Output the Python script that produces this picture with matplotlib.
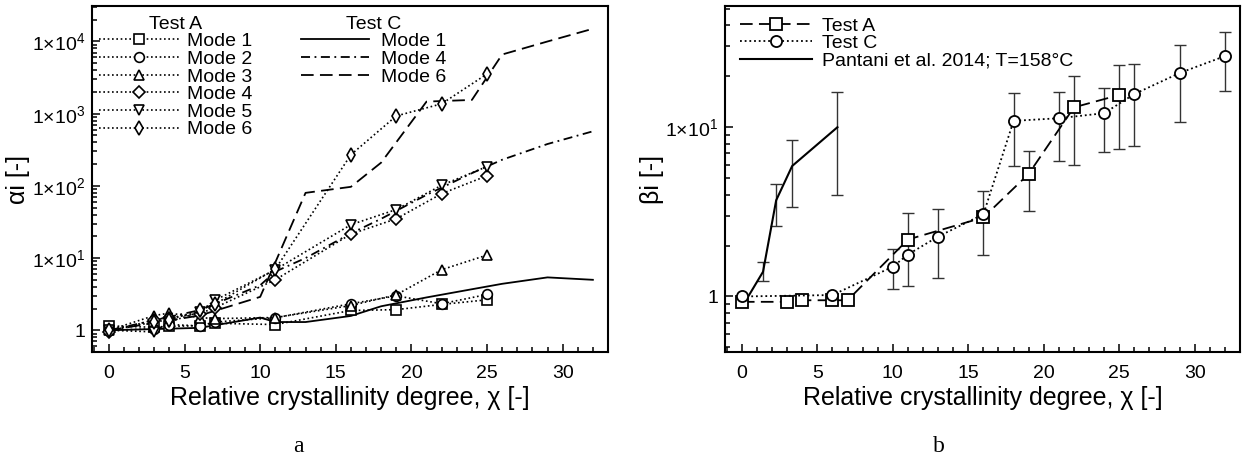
import matplotlib
matplotlib.use("Agg")
import matplotlib.pyplot as plt
import matplotlib.ticker as mticker
import numpy as np

plt.rcParams["font.family"] = "Liberation Sans"
plt.rcParams["mathtext.fontset"] = "custom"
plt.rcParams["mathtext.rm"] = "Liberation Sans"
plt.rcParams["mathtext.default"] = "regular"

# ---- panel a: alpha_i ----
a_x = [0, 3, 4, 6, 7, 11, 16, 19, 22, 25]
a_mode1 = [1.15, 1.1, 1.13, 1.16, 1.25, 1.2, 1.88, 1.93, 2.28, 2.64]
a_mode2 = [1.0, 1.05, 1.2, 1.15, 1.3, 1.49, 2.33, 3.0, 2.33, 3.13]
a_mode3 = [1.0, 1.6, 1.73, 1.5, 1.45, 1.5, 2.2, 3.1, 6.9, 11.0]
a_mode4 = [0.95, 1.4, 1.5, 1.7, 2.05, 5.0, 21.5, 35, 78, 138]
a_mode5 = [1.0, 0.95, 1.3, 1.8, 2.6, 6.9, 29, 47, 102, 185]
a_mode6 = [1.0, 1.3, 1.4, 1.9, 2.3, 7.0, 270, 930, 1370, 3550]

c_x = [0, 6, 10, 11, 13, 16, 18, 21, 24, 26, 29, 32]
c_mode1 = [1.0, 1.08, 1.5, 1.3, 1.3, 1.58, 2.15, 2.85, 3.7, 4.4, 5.4, 5.0]
c_mode4 = [1.0, 1.9, 4.2, 6.5, 10, 22, 35, 75, 150, 230, 380, 570]
c_mode6 = [1.0, 1.6, 2.9, 8.7, 80, 97, 210, 1470, 1550, 6600, 10000, 15000]

# ---- panel b: beta_i ----
bA_x = [0, 3, 4, 6, 7, 11, 16, 19, 22, 25]
bA_y = [0.93, 0.93, 0.95, 0.95, 0.95, 2.17, 2.93, 5.3, 13.1, 15.5]
bA_err_x = [16, 19, 22, 25]
bA_err_lo = [1.77, 3.2, 6.0, 7.4]
bA_err_hi = [4.2, 7.2, 20.0, 23.3]

bC_x = [0, 6, 10, 11, 13, 16, 18, 21, 24, 26, 29, 32]
bC_y = [1.0, 1.02, 1.5, 1.77, 2.26, 3.06, 10.9, 11.3, 12.1, 15.7, 20.9, 26.3]
bC_err_x = [10, 11, 13, 18, 21, 24, 26, 29, 32]
bC_err_lo = [1.1, 1.16, 1.28, 5.9, 6.3, 7.1, 7.7, 10.8, 16.4]
bC_err_hi = [1.9, 3.1, 3.27, 15.9, 16.1, 17.0, 23.6, 30.6, 36.5]

pant_x = [0.33, 1.4, 2.27, 3.33, 6.33]
pant_y = [0.97, 1.4, 3.7, 5.9, 10.0]
pant_err_x = [1.4, 2.27, 3.33, 6.33]
pant_err_y = [1.4, 3.7, 5.9, 10.0]
pant_err_lo = [1.23, 2.6, 3.4, 4.0]
pant_err_hi = [1.6, 4.6, 8.4, 16.1]

FS = 14
LFS = 18
dotted = (0, (1, 1.6))
dashdot = (0, (5, 2.5, 1, 2.5))
dashed = (0, (7, 3.5))


def sci_fmt(v, pos):
    if v <= 0:
        return ""
    e = int(round(np.log10(v)))
    if abs(v - 10 ** e) > 1e-9 * v:
        return ""
    if e == 0:
        return "1"
    return "1\u00d710$^{%d}$" % e


def style_axes(ax):
    ax.set_yscale("log")
    ax.set_xlim(-1.12, 33.0)
    ax.xaxis.set_major_locator(mticker.MultipleLocator(5))
    ax.xaxis.set_minor_locator(mticker.MultipleLocator(1))
    ax.yaxis.set_major_formatter(mticker.FuncFormatter(sci_fmt))
    ax.yaxis.set_minor_formatter(mticker.NullFormatter())
    ax.tick_params(which="both", direction="in", top=False, right=False, labelsize=FS, width=1.1)
    ax.tick_params(which="major", length=6)
    ax.tick_params(which="minor", length=3.5)
    ax.tick_params(axis="x", which="both", pad=9)
    ax.tick_params(axis="y", which="both", pad=5)
    for s in ax.spines.values():
        s.set_linewidth(1.5)
    ax.set_xlabel("Relative crystallinity degree, \u03c7 [-]", fontsize=LFS, labelpad=3)


fig = plt.figure(figsize=(12.45, 4.58), dpi=100)
ax1 = fig.add_axes([92 / 1245, 1 - 352 / 458, 516 / 1245, 346 / 458])
ax2 = fig.add_axes([725 / 1245, 1 - 352 / 458, 515 / 1245, 346 / 458])

# panel a
mk = dict(color="black", lw=1.2, ls=dotted, markerfacecolor="white",
          markeredgecolor="black", markeredgewidth=1.2)
hA = []
for ys, m, lab in [(a_mode1, "s", "Mode 1"), (a_mode2, "o", "Mode 2"), (a_mode3, "^", "Mode 3"),
                   (a_mode4, "D", "Mode 4"), (a_mode5, "v", "Mode 5"), (a_mode6, "d", "Mode 6")]:
    ms = 6 if m == "D" else 7
    h, = ax1.plot(a_x, ys, marker=m, markersize=ms, label=lab, zorder=3, **mk)
    hA.append(h)

hC = []
for ys, ls, lab in [(c_mode1, "-", "Mode 1"), (c_mode4, dashdot, "Mode 4"), (c_mode6, dashed, "Mode 6")]:
    h, = ax1.plot(c_x, ys, color="black", lw=1.3, ls=ls, label=lab, zorder=2)
    hC.append(h)

style_axes(ax1)
ax1.set_ylim(0.5, 3.1e4)
ax1.set_ylabel("\u03b1i [-]", fontsize=LFS, labelpad=1)

legA = ax1.legend(handles=hA, title="Test A", loc="upper left", bbox_to_anchor=(0.014, 0.972),
                  frameon=False, fontsize=FS, title_fontsize=FS, handlelength=4.1, handletextpad=0.4,
                  labelspacing=0.0, borderpad=0, borderaxespad=0, numpoints=1)
ax1.add_artist(legA)
ax1.legend(handles=hC, title="Test C", loc="upper left", bbox_to_anchor=(0.405, 0.972),
           frameon=False, fontsize=FS, title_fontsize=FS, handlelength=3.5, handletextpad=0.6,
           labelspacing=0.0, borderpad=0, borderaxespad=0)

# panel b
eb = dict(fmt="none", ecolor="#333333", elinewidth=1.0, capsize=4, capthick=1.0, zorder=1)
ax2.errorbar(bA_err_x, [bA_y[bA_x.index(x)] for x in bA_err_x],
             yerr=[[bA_y[bA_x.index(x)] - lo for x, lo in zip(bA_err_x, bA_err_lo)],
                   [hi - bA_y[bA_x.index(x)] for x, hi in zip(bA_err_x, bA_err_hi)]], **eb)
ax2.errorbar(bC_err_x, [bC_y[bC_x.index(x)] for x in bC_err_x],
             yerr=[[bC_y[bC_x.index(x)] - lo for x, lo in zip(bC_err_x, bC_err_lo)],
                   [hi - bC_y[bC_x.index(x)] for x, hi in zip(bC_err_x, bC_err_hi)]], **eb)
ax2.errorbar(pant_err_x, pant_err_y,
             yerr=[[y - lo for y, lo in zip(pant_err_y, pant_err_lo)],
                   [hi - y for y, hi in zip(pant_err_y, pant_err_hi)]], **eb)

mk2 = dict(color="black", lw=1.3, markersize=8, markerfacecolor="white",
           markeredgecolor="black", markeredgewidth=1.3, zorder=3)
h1, = ax2.plot(bA_x, bA_y, marker="s", ls=dashed, label="Test A", **mk2)
h2, = ax2.plot(bC_x, bC_y, marker="o", ls=dotted, label="Test C", **mk2)
h3, = ax2.plot(pant_x, pant_y, color="black", lw=1.5, ls="-", zorder=2,
               label="Pantani et al. 2014; T=158\u00b0C")

style_axes(ax2)
ax2.set_ylim(0.47, 52)
ax2.set_ylabel("\u03b2i [-]", fontsize=LFS, labelpad=1)
ax2.legend(handles=[h1, h2, h3], loc="upper left", bbox_to_anchor=(0.03, 0.968),
           frameon=False, fontsize=FS, handlelength=3.7, handletextpad=0.5,
           labelspacing=0.0, borderpad=0, borderaxespad=0, numpoints=1)

fig.text(0.24, 0.026, "a", family="Liberation Serif", fontsize=17, ha="center", va="center")
fig.text(0.754, 0.026, "b", family="Liberation Serif", fontsize=17, ha="center", va="center")

fig.savefig("out.png", dpi=100)
